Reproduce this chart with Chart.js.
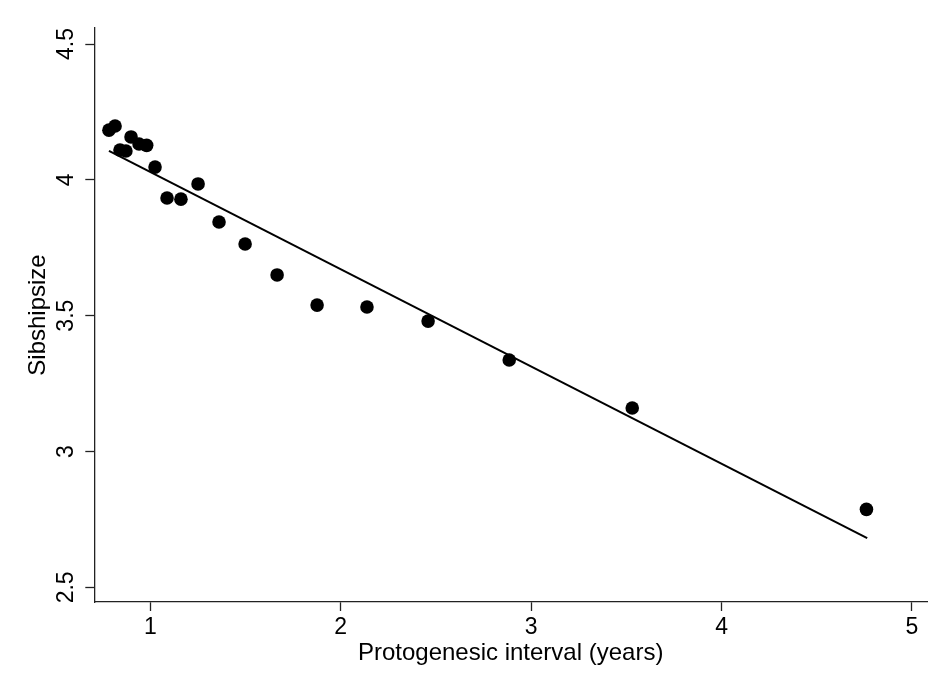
<!DOCTYPE html>
<html>
<head>
<meta charset="utf-8">
<script src="https://cdn.jsdelivr.net/npm/chart.js@4/dist/chart.umd.min.js"></script>
<style>
  html, body { margin: 0; padding: 0; background: #fff; }
  #wrap { width: 949px; height: 692px; }
</style>
</head>
<body>
<div id="wrap"><canvas id="grafico" width="949" height="692"></canvas></div>
<script>
// Datos
const intervalYears = [0.783, 0.815, 0.841, 0.872, 0.899, 0.941, 0.981, 1.025, 1.088, 1.161,
                       1.251, 1.361, 1.498, 1.666, 1.876, 2.138, 2.459, 2.885, 3.531, 4.761];
const sibshipSize = [4.183, 4.198, 4.110, 4.106, 4.158, 4.132, 4.127, 4.047, 3.933, 3.929,
                     3.985, 3.845, 3.764, 3.650, 3.539, 3.532, 3.480, 3.337, 3.160, 2.787];

// Recta ajustada (extremos)
const fitX = [0.783, 4.765];
const fitY = [4.107, 2.681];

// Marcas de los ejes
const xTicks = [1, 2, 3, 4, 5];
const yTicks = [2.5, 3, 3.5, 4, 4.5];
const yTickLabels = ['2.5', '3', '3.5', '4', '4.5'];

const FONT = '"Liberation Sans", Arial, Helvetica, sans-serif';
const INK = '#000';
const AXIS = '#222';

// Etiquetas del eje Y giradas 90 grados
const yLabelsPlugin = {
  id: 'yLabels',
  afterDraw(chart) {
    const scale = chart.scales.y;
    const ctx = chart.ctx;
    ctx.save();
    ctx.font = '23px ' + FONT;
    ctx.fillStyle = INK;
    ctx.textAlign = 'center';
    ctx.textBaseline = 'middle';
    yTicks.forEach((v, i) => {
      const py = scale.getPixelForValue(v);
      ctx.save();
      ctx.translate(67, py);
      ctx.rotate(-Math.PI / 2);
      ctx.fillText(yTickLabels[i], 0, 0);
      ctx.restore();
    });
    ctx.restore();
  }
};

const puntos = intervalYears.map((x, i) => ({ x: x, y: sibshipSize[i] }));
const recta = fitX.map((x, i) => ({ x: x, y: fitY[i] }));

new Chart(document.getElementById('grafico').getContext('2d'), {
  type: 'scatter',
  data: {
    datasets: [
      {
        label: 'Sibshipsize',
        data: puntos,
        backgroundColor: INK,
        borderWidth: 0,
        pointRadius: 6.8,
        pointHoverRadius: 6.8
      },
      {
        type: 'line',
        label: 'Ajuste',
        data: recta,
        borderColor: INK,
        borderWidth: 2,
        pointRadius: 0,
        fill: false,
        tension: 0
      }
    ]
  },
  options: {
    responsive: false,
    animation: false,
    layout: { padding: { top: 28, right: 22, left: 0, bottom: 0 } },
    plugins: {
      legend: { display: false },
      tooltip: { enabled: false }
    },
    scales: {
      x: {
        type: 'linear',
        min: 0.706,
        max: 5.079,
        afterBuildTicks: s => { s.ticks = xTicks.map(v => ({ value: v })); },
        afterFit: s => { s.height = 90; },
        grid: { drawOnChartArea: false, tickLength: 9, tickColor: AXIS, tickWidth: 1.3 },
        border: { color: AXIS, width: 1.3 },
        ticks: {
          color: INK,
          padding: 3,
          font: { family: FONT, size: 23 },
          maxRotation: 0,
          callback: v => String(v)
        },
        title: {
          display: true,
          text: 'Protogenesic interval (years)',
          color: INK,
          font: { family: FONT, size: 24 },
          padding: { top: 0, bottom: 24 }
        }
      },
      y: {
        type: 'linear',
        min: 2.446,
        max: 4.559,
        afterBuildTicks: s => { s.ticks = yTicks.map(v => ({ value: v })); },
        afterFit: s => { s.width = 94.3; },
        grid: { drawOnChartArea: false, tickLength: 9, tickColor: AXIS, tickWidth: 1.3 },
        border: { color: AXIS, width: 1.3 },
        ticks: { display: false },
        title: {
          display: true,
          text: 'Sibshipsize',
          color: INK,
          font: { family: FONT, size: 24 },
          padding: { top: 24, bottom: 0 }
        }
      }
    }
  },
  plugins: [yLabelsPlugin]
});
</script>
</body>
</html>
